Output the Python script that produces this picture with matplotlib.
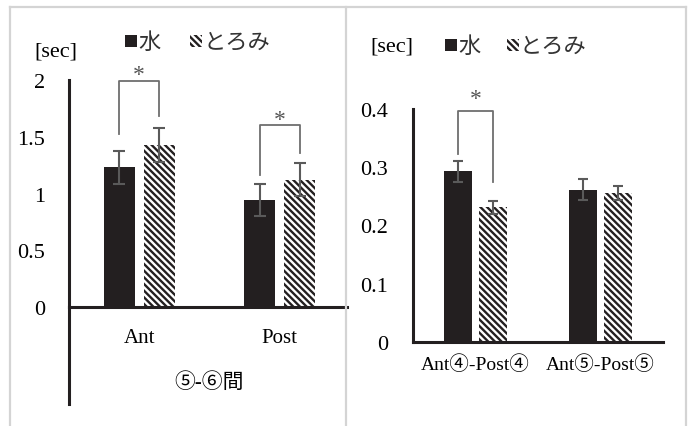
import matplotlib
matplotlib.use("Agg")
import matplotlib.pyplot as plt
from matplotlib.patches import Rectangle
from matplotlib.lines import Line2D

W, H = 693, 427

# left panel: 5-6 interval
cats_a = ["Ant", "Post"]
water_a = [1.23, 0.94]
water_a_err = [0.145, 0.14]
thick_a = [1.43, 1.12]
thick_a_err = [0.15, 0.145]

# right panel
cats_b = ["Ant④-Post④", "Ant⑤-Post⑤"]
water_b = [0.293, 0.261]
water_b_err = [0.018, 0.018]
thick_b = [0.231, 0.256]
thick_b_err = [0.011, 0.012]

BAR = "#231f20"
ERR = "#5a5a5a"
BORDER = "#d4d4d4"
HATCH = "\\" * 5
SERIF = ["Liberation Serif", "Noto Sans CJK JP", "DejaVu Sans"]
CJK = ["Noto Sans CJK JP", "DejaVu Sans"]

plt.rcParams["hatch.linewidth"] = 1.7
plt.rcParams["hatch.color"] = BAR


def fx(px):
    return px / W


def fy(py):
    return 1 - py / H


fig = plt.figure(figsize=(W / 100, H / 100), dpi=100)
fig.patch.set_facecolor("white")

# panel frames
for xs, ys in [([10, 686], [8, 8]), ([10, 10], [8, 427]),
               ([346, 346], [8, 427]), ([686, 686], [8, 427])]:
    fig.add_artist(Line2D([fx(x) for x in xs], [fy(y) for y in ys],
                          color=BORDER, lw=1.6))


def panel(rect, cats, water, water_err, thick, thick_err, ymax, yticks,
          ticklabels, xlim, width, off, cap, catsize, ypad, xpad):
    ax = fig.add_axes(rect)
    x = range(len(cats))
    xw = [i - off for i in x]
    xt = [i + off for i in x]
    ax.bar(xw, water, width, color=BAR, zorder=2)
    ax.bar(xt, thick, width, color="white", edgecolor=BAR, hatch=HATCH,
           lw=0, zorder=2)
    ax.errorbar(xw, water, yerr=water_err, fmt="none", ecolor=ERR,
                elinewidth=1.5, capsize=cap, capthick=1.5, zorder=3)
    ax.errorbar(xt, thick, yerr=thick_err, fmt="none", ecolor=ERR,
                elinewidth=1.5, capsize=cap, capthick=1.5, zorder=3)
    ax.set_ylim(0, ymax)
    ax.set_xlim(*xlim)
    ax.set_yticks(yticks)
    ax.set_yticklabels(ticklabels, family=SERIF, fontsize=16)
    ax.set_xticks(list(x))
    ax.set_xticklabels(cats, family=SERIF, fontsize=catsize)
    ax.tick_params(axis="y", length=0, pad=ypad)
    ax.tick_params(axis="x", length=0, pad=xpad)
    for s in ["top", "right"]:
        ax.spines[s].set_visible(False)
    for s in ["left", "bottom"]:
        ax.spines[s].set_linewidth(2.2)
        ax.spines[s].set_color(BAR)
    ax.patch.set_alpha(0)
    return ax, xw, xt


def bracket(ax, x0, x1, y0, y1, top, star_y):
    ax.plot([x0, x0, x1, x1], [y0, top, top, y1], color="#6e6e6e", lw=1.3,
            zorder=4, clip_on=False)
    ax.text((x0 + x1) / 2, star_y, "*", ha="center", va="center",
            fontsize=17, color="#555555", family=SERIF)


# left panel: axes spans x 69..347 px, y 81..308 px
ax1, xw1, xt1 = panel([fx(69), fy(308), fx(347) - fx(69), fy(81) - fy(308)],
                      cats_a, water_a, water_a_err, thick_a, thick_a_err,
                      2.0, [0, 0.5, 1, 1.5, 2], ["0", "0.5", "1", "1.5", "2"],
                      (-0.5, 1.48), 0.22, 0.142, 4.5, 15, 17, 15)
bracket(ax1, xw1[0], xt1[0], 1.52, 1.68, 1.99, 2.05)
bracket(ax1, xw1[1], xt1[1], 1.16, 1.36, 1.60, 1.65)
# extended category axis line below the baseline
fig.add_artist(Line2D([fx(69), fx(69)], [fy(308), fy(405)], color=BAR, lw=2.2))
fig.text(fx(209), fy(383), "⑤-⑥間", ha="center", va="center", fontsize=15,
         family=SERIF)

# right panel: axes spans x 413..663 px, y 110..343 px
ax2, xw2, xt2 = panel([fx(413), fy(343), fx(663) - fx(413), fy(110) - fy(343)],
                      cats_b, water_b, water_b_err, thick_b, thick_b_err,
                      0.4, [0, 0.1, 0.2, 0.3, 0.4],
                      ["0", "0.1", "0.2", "0.3", "0.4"],
                      (-0.5, 1.5), 0.225, 0.14, 3.5, 14, 18, 9)
bracket(ax2, xw2[0], xt2[0], 0.323, 0.275, 0.397, 0.418)

# units and legends
fig.text(fx(56), fy(52), "[sec]", ha="center", va="center", fontsize=16,
         family=SERIF)
fig.text(fx(392), fy(47), "[sec]", ha="center", va="center", fontsize=16,
         family=SERIF)


def legend(sq1, sq2, cy):
    s = 12
    fig.add_artist(Rectangle((fx(sq1), fy(cy + s / 2)), s / W, s / H,
                             color=BAR, lw=0))
    fig.text(fx(sq1 + s + 1), fy(cy), "水", ha="left", va="center",
             fontsize=16, family=CJK, color="#333333")
    fig.add_artist(Rectangle((fx(sq2), fy(cy + s / 2)), s / W, s / H,
                             facecolor="white", edgecolor=BAR, hatch=HATCH,
                             lw=0))
    fig.text(fx(sq2 + s + 1), fy(cy), "とろみ", ha="left", va="center",
             fontsize=16, family=CJK, color="#333333")


legend(125, 190, 42)
legend(445, 507, 46)

fig.savefig("out.png", dpi=100)
